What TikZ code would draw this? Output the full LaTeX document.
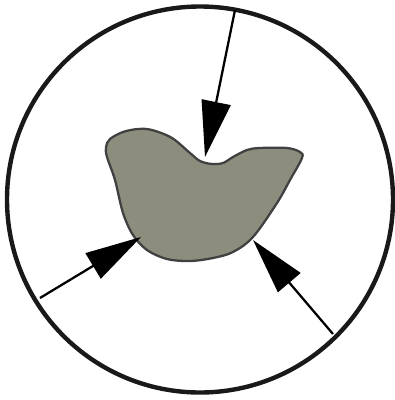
\documentclass[tikz,border=0pt]{standalone}
\usetikzlibrary{arrows.meta}
\definecolor{blobgray}{RGB}{140,141,125}
\definecolor{rimgray}{RGB}{64,64,64}

\begin{document}
\begin{tikzpicture}[x=0.75pt,y=-0.75pt]
\tikzstyle{pointer}=[line width=1.7pt,-{Triangle[length=42pt,width=22pt]}]
\useasboundingbox (0,0) rectangle (395,400);
% outer circle
\draw[line width=3.3pt,draw=black!90] (200,199.5) circle (193);
% the blob
\draw[fill=blobgray,draw=rimgray,line width=1.7pt] plot[smooth cycle,tension=0.55] coordinates {
  (106,147) (110,139) (123,132) (138,129) (152,130) (172,138) (190,153)
  (200,161) (212,164) (223,163) (233,157) (247,150) (260,148) (287,148)
  (300,152) (302,158) (290,180) (277,203) (253,237) (233,252) (213,258)
  (190,261) (167,259) (147,250) (133,235) (123,213) (115,180) (107,157)};
% ends on the circle and on the blob
\coordinate (rimtop) at (235,10);
\coordinate (rimleft) at (40,298);
\coordinate (rimright) at (333,334);
\coordinate (tiptop) at (205,157);
\coordinate (tipleft) at (141,237);
\coordinate (tipright) at (253,240);
\draw[pointer] (rimtop) -- (tiptop);
\draw[pointer] (rimleft) -- (tipleft);
\draw[pointer] (rimright) -- (tipright);
\end{tikzpicture}
\end{document}
